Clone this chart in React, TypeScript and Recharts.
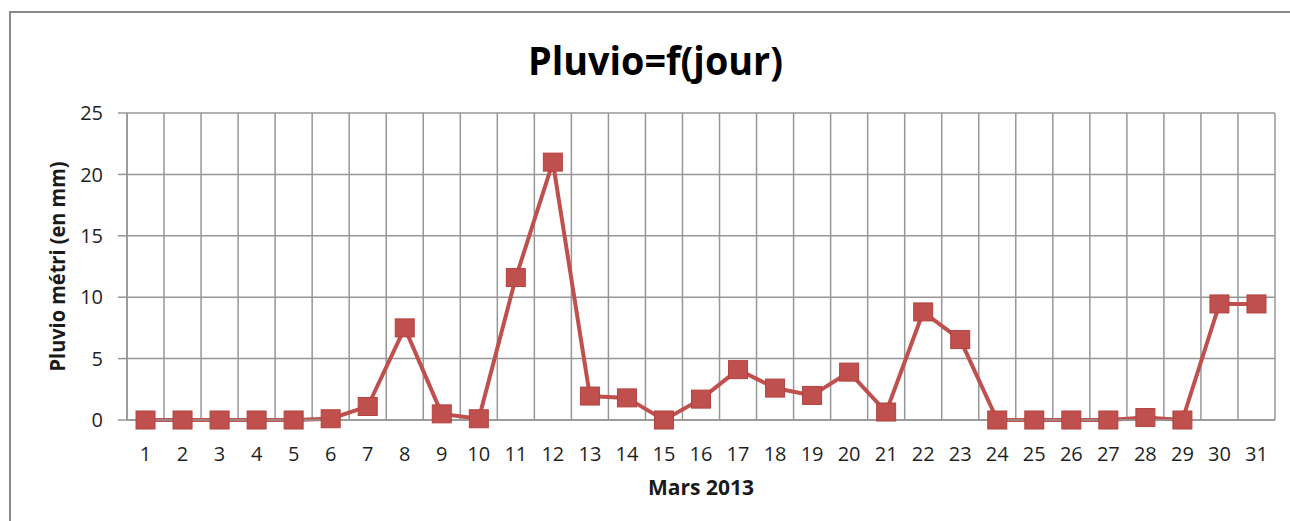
import { LineChart, Line, XAxis, YAxis, CartesianGrid, Label } from 'recharts';

const days = ['1', '2', '3', '4', '5', '6', '7', '8', '9', '10', '11', '12', '13', '14', '15', '16', '17', '18', '19', '20', '21', '22', '23', '24', '25', '26', '27', '28', '29', '30', '31'];
const pluvio = [0, 0, 0, 0, 0, 0.1, 1.1, 7.5, 0.5, 0.1, 11.6, 21, 1.95, 1.8, 0, 1.7, 4.1, 2.6, 2.0, 3.9, 0.65, 8.8, 6.55, 0, 0, 0, 0, 0.2, 0, 9.45, 9.45];
const yTicks = [0, 5, 10, 15, 20, 25];

const data = days.map((d, i) => ({ jour: d, pluvio: pluvio[i] }));

const GRID = '#979797';
const RED = '#c0504d';
const FONT = "'Open Sans', sans-serif";

// Excel-style square marker
const SquareDot = (props: any) => {
  const { cx, cy } = props;
  if (cx == null || cy == null) return null;
  return <rect x={cx - 9.5} y={cy - 9} width={19} height={18} fill={RED} stroke="#b3423f" strokeWidth={1} />;
};

const YLabel = (props: any) => {
  const { viewBox } = props;
  const cy = viewBox.y + viewBox.height / 2;
  return (
    <text
      x={65}
      y={cy}
      transform={`rotate(-90, 65, ${cy})`}
      textAnchor="middle"
      fontFamily={FONT}
      fontWeight={700}
      fontSize={21}
      fill="#1a1a1a"
      textLength={210}
      lengthAdjust="spacingAndGlyphs"
    >
      Pluvio métri (en mm)
    </text>
  );
};

const XLabel = (props: any) => {
  const { viewBox } = props;
  const cx = viewBox.x + viewBox.width / 2;
  return (
    <text x={cx} y={495} textAnchor="middle" fontFamily={FONT} fontWeight={700} fontSize={21} fill="#1a1a1a" textLength={106} lengthAdjust="spacingAndGlyphs">
      Mars 2013
    </text>
  );
};

export default function App() {
  return (
    <div style={{ position: 'absolute', left: 0, top: 0, width: 1290, height: 521, overflow: 'hidden', background: '#fff' }}>
      <div style={{ position: 'absolute', left: 9, top: 11, width: 1400, height: 600, border: '2px solid #8a8a8a' }} />
      <svg style={{ position: 'absolute', left: 0, top: 0 }} width={1290} height={110}>
        <text x={655.5} y={75} textAnchor="middle" fontFamily={FONT} fontWeight={700} fontSize={40} fill="#000" textLength={255} lengthAdjust="spacingAndGlyphs">
          Pluvio=f(jour)
        </text>
      </svg>
      <div style={{ position: 'absolute', left: 0, top: 0 }}>
        <LineChart width={1290} height={521} data={data} margin={{ top: 113, right: 15, left: 67, bottom: 41 }}>
          <CartesianGrid
            stroke={GRID}
            strokeWidth={1.5}
            verticalCoordinatesGenerator={({ offset }: any) =>
              Array.from({ length: days.length + 1 }, (_, i) => offset.left + (i * offset.width) / days.length)
            }
          />
          <XAxis
            dataKey="jour"
            scale="band"
            interval={0}
            height={60}
            axisLine={{ stroke: GRID, strokeWidth: 1.5 }}
            tickLine={false}
            tickSize={0}
            tickMargin={27}
            tick={{ fill: '#1f1f1f', fontSize: 20, fontFamily: FONT }}
          >
            <Label content={<XLabel />} />
          </XAxis>
          <YAxis
            domain={[0, 25]}
            ticks={yTicks}
            width={60}
            axisLine={{ stroke: GRID, strokeWidth: 1.5 }}
            tickLine={{ stroke: GRID, strokeWidth: 1.5 }}
            tickSize={9}
            tickMargin={15}
            tick={{ fill: '#1f1f1f', fontSize: 20, fontFamily: FONT }}
          >
            <Label content={<YLabel />} />
          </YAxis>
          <Line
            type="linear"
            dataKey="pluvio"
            stroke={RED}
            strokeWidth={4}
            dot={<SquareDot />}
            activeDot={false}
            isAnimationActive={false}
          />
        </LineChart>
      </div>
    </div>
  );
}
